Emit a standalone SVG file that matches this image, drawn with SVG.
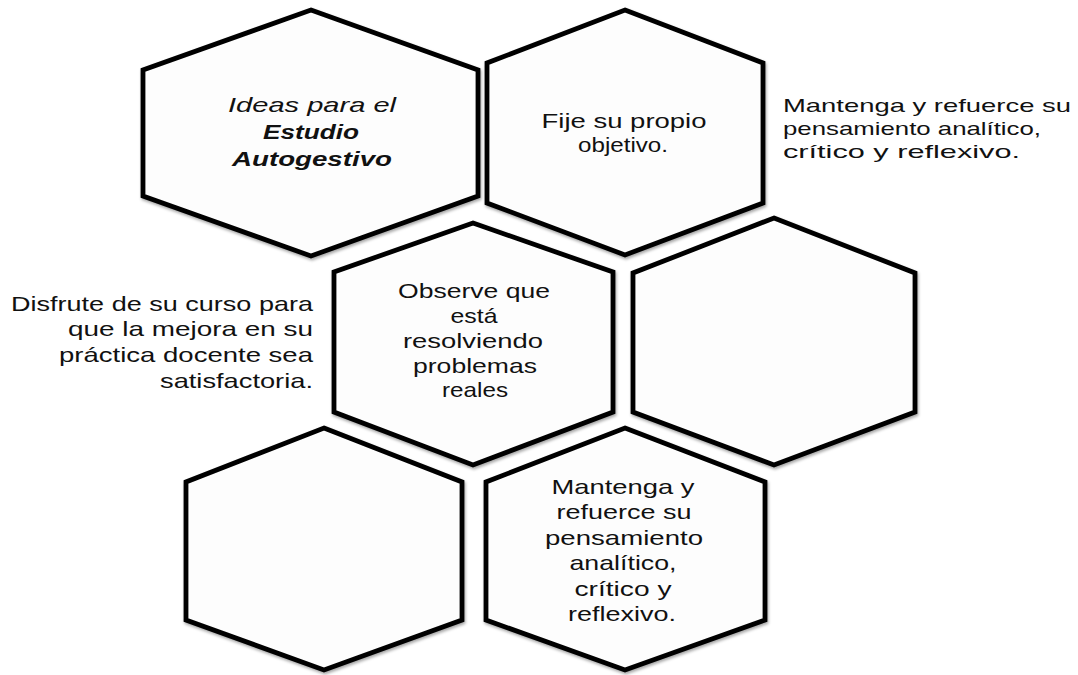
<svg xmlns="http://www.w3.org/2000/svg" width="1078" height="675" viewBox="0 0 1078 675">
<defs>
<filter id="sh" x="-10%" y="-10%" width="120%" height="120%">
<feDropShadow dx="1" dy="2" stdDeviation="1.5" flood-color="#000" flood-opacity="0.35"/>
</filter>
<style>
.hex{fill:#fdfdfd;stroke:#000;stroke-width:4.8;stroke-linejoin:miter;filter:url(#sh)}
text{font-family:"Liberation Sans",Arial,sans-serif;fill:#111}
.c{text-anchor:middle;font-size:21px}
.l{text-anchor:start;font-size:19px}
.r{text-anchor:end;font-size:21px}
.it{font-style:italic}
.bi{font-style:italic;font-weight:bold}
</style>
</defs>
<rect width="1078" height="675" fill="#fff"/>
<g id="connectors"/>
<g id="hex1">
<polygon class="hex" points="311,10 478,70 478,196 311,256 143,196 143,70"/>
<text class="c it" x="312" y="112" textLength="168" lengthAdjust="spacingAndGlyphs">Ideas para el</text>
<text class="c bi" x="311" y="139" textLength="96" lengthAdjust="spacingAndGlyphs">Estudio</text>
<text class="c bi" x="312" y="166" textLength="160" lengthAdjust="spacingAndGlyphs">Autogestivo</text>
</g>
<g id="hex2">
<polygon class="hex" points="625,10 763,63 763,203 625,255 487,203 487,63"/>
<text class="c" x="624" y="128" textLength="165" lengthAdjust="spacingAndGlyphs">Fije su propio</text>
<text class="c" x="623" y="152" textLength="90" lengthAdjust="spacingAndGlyphs">objetivo.</text>
</g>
<g id="note-right">
<text class="l" x="783" y="112" textLength="288" lengthAdjust="spacingAndGlyphs">Mantenga y refuerce su</text>
<text class="l" x="783" y="135" textLength="258" lengthAdjust="spacingAndGlyphs">pensamiento analítico,</text>
<text class="l" x="783" y="158" textLength="237" lengthAdjust="spacingAndGlyphs">crítico y reflexivo.</text>
</g>
<g id="note-left">
<text class="r" x="313" y="311" textLength="302" lengthAdjust="spacingAndGlyphs">Disfrute de su curso para</text>
<text class="r" x="313" y="336" textLength="245" lengthAdjust="spacingAndGlyphs">que la mejora en su</text>
<text class="r" x="313" y="362" textLength="254" lengthAdjust="spacingAndGlyphs">práctica docente sea</text>
<text class="r" x="313" y="388" textLength="153" lengthAdjust="spacingAndGlyphs">satisfactoria.</text>
</g>
<g id="hex3">
<polygon class="hex" points="473,223 613,272 613,412 473,465 334,412 334,272"/>
<text class="c" x="474" y="298" textLength="152" lengthAdjust="spacingAndGlyphs">Observe que</text>
<text class="c" x="474" y="323" textLength="47" lengthAdjust="spacingAndGlyphs">está</text>
<text class="c" x="473" y="348" textLength="140" lengthAdjust="spacingAndGlyphs">resolviendo</text>
<text class="c" x="475" y="373" textLength="124" lengthAdjust="spacingAndGlyphs">problemas</text>
<text class="c" x="475" y="397" textLength="66" lengthAdjust="spacingAndGlyphs">reales</text>
</g>
<g id="hex4">
<polygon class="hex" points="774,218 915,273 915,412 774,465 633,412 633,273"/>
</g>
<g id="hex5">
<polygon class="hex" points="324,428 462,482 462,620 324,670 186,620 186,482"/>
</g>
<g id="hex6">
<polygon class="hex" points="625,428 765,482 765,620 625,670 486,620 486,482"/>
<text class="c" x="623" y="494" textLength="143" lengthAdjust="spacingAndGlyphs">Mantenga y</text>
<text class="c" x="624" y="519" textLength="135" lengthAdjust="spacingAndGlyphs">refuerce su</text>
<text class="c" x="624" y="545" textLength="158" lengthAdjust="spacingAndGlyphs">pensamiento</text>
<text class="c" x="623" y="570" textLength="107" lengthAdjust="spacingAndGlyphs">analítico,</text>
<text class="c" x="623" y="596" textLength="97" lengthAdjust="spacingAndGlyphs">crítico y</text>
<text class="c" x="622" y="621" textLength="108" lengthAdjust="spacingAndGlyphs">reflexivo.</text>
</g>
</svg>
